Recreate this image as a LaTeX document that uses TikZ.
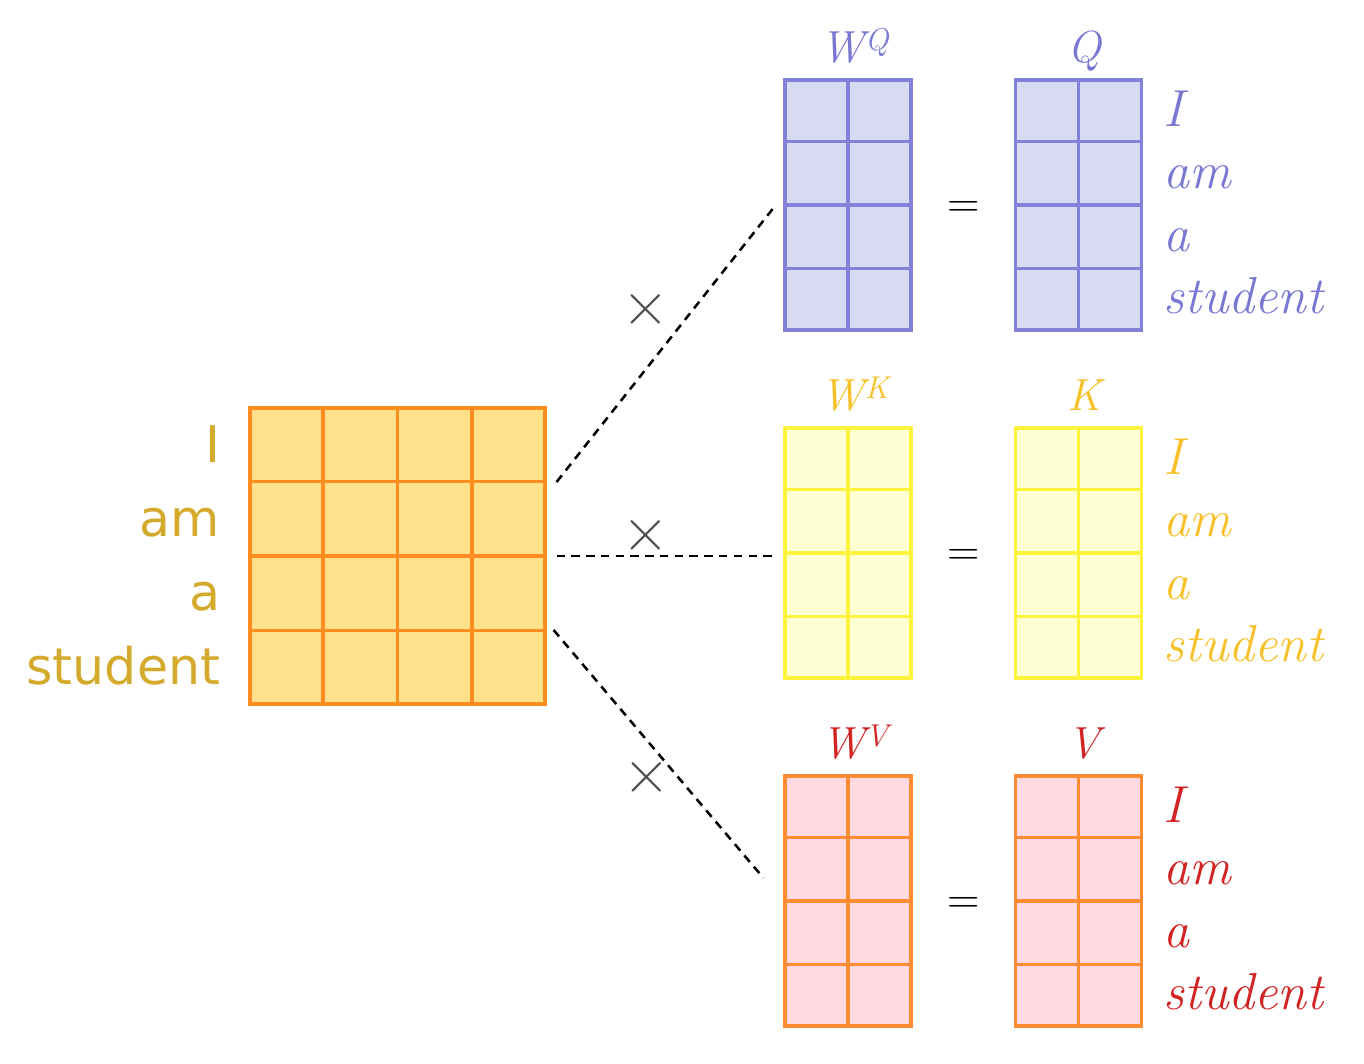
\documentclass[tikz,border=0pt]{standalone}
\usepackage{fontspec}
\newfontfamily\wordfont{DejaVu Sans}
\usetikzlibrary{positioning,calc}

\definecolor{lineq}{RGB}{130,130,218}
\definecolor{fillq}{RGB}{216,218,242}
\definecolor{textq}{RGB}{120,120,210}
\definecolor{linek}{RGB}{255,242,60}
\definecolor{fillk}{RGB}{255,255,212}
\definecolor{textk}{RGB}{248,192,40}
\definecolor{linev}{RGB}{255,140,50}
\definecolor{fillv}{RGB}{255,218,226}
\definecolor{textv}{RGB}{210,35,35}
\definecolor{linex}{RGB}{255,140,30}
\definecolor{fillx}{RGB}{255,225,140}
\definecolor{textx}{RGB}{212,170,45}

\tikzset{
  matbox/.style={draw, line width=2.2pt, inner sep=0pt},
  wbox/.style={matbox, minimum width=3.15cm, minimum height=6.25cm},
  gridline/.style={line width=2.2pt},
  dashline/.style={line width=1.8pt, dash pattern=on 6pt off 4.5pt},
  multsign/.style={text=black!70, inner sep=0pt, font=\fontsize{46}{48}\selectfont},
  eqsign/.style={inner sep=0pt, font=\fontsize{32}{36}\selectfont},
  toplabel/.style={inner sep=0pt, font=\itshape\fontsize{32}{36}\selectfont},
  rowword/.style={inner sep=0pt, anchor=base west, font=\itshape\fontsize{37}{40}\selectfont},
  inword/.style={inner sep=0pt, anchor=base east, text=textx, font=\wordfont\fontsize{36}{40}\selectfont}
}

\begin{document}
\begin{tikzpicture}[x=0.025cm, y=-0.025cm]
  \useasboundingbox (0,0) rectangle (1364,1064);

  % embedding of the sentence
  \node[matbox, draw=linex, fill=fillx, minimum width=7.375cm, minimum height=7.4cm] (X) at (397.5,556) {};
  \foreach \i in {1,2,3}{
    \draw[gridline, linex] ($(X.north west)!\i/4!(X.north east)$) -- ($(X.south west)!\i/4!(X.south east)$);
    \draw[gridline, linex] ($(X.north west)!\i/4!(X.south west)$) -- ($(X.north east)!\i/4!(X.south east)$);
  }
  \foreach \word [count=\i from 0] in {I,am,a,student}
    \node[inword] (x-\i) at ($(X.north west)+(-28,56+74*\i)$) {\word};

  % weights and products
  \foreach \r/\c/\y in {Q/q/205, K/k/553, V/v/901}{
    \node[wbox, draw=line\c, fill=fill\c] (W\r) at (848,\y) {};
    \node[wbox, draw=line\c, fill=fill\c] (\r) at (1078.5,\y) {};
    \draw[gridline, line\c] (W\r.north) -- (W\r.south);
    \draw[gridline, line\c] (\r.north) -- (\r.south);
    \foreach \i in {1,2,3}{
      \draw[gridline, line\c] ($(W\r.north west)!\i/4!(W\r.south west)$) -- ($(W\r.north east)!\i/4!(W\r.south east)$);
      \draw[gridline, line\c] ($(\r.north west)!\i/4!(\r.south west)$) -- ($(\r.north east)!\i/4!(\r.south east)$);
    }
    \node[toplabel, text=text\c, above=11pt of W\r, anchor=base, xshift=5pt] (W\r-lab) {W\textsuperscript{\r}};
    \node[toplabel, text=text\c, above=11pt of \r, anchor=base, xshift=4pt] (\r-lab) {\r};
    \node[eqsign] (eq\r) at ($(W\r.east)!0.5!(\r.west)+(0,4)$) {=};
    \foreach \word [count=\i from 0] in {I,am,a,student}
      \node[rowword, text=text\c] (\r-\i) at ($(\r.north east)+(20,48+62.5*\i)$) {\word};
  }

  % multiplications
  \coordinate (xq) at ($(X.east)+(10,-74)$);
  \coordinate (xk) at ($(X.east)+(10,0)$);
  \coordinate (xv) at ($(X.east)+(7,74)$);
  \coordinate (wq) at ($(WQ.west)+(-10,3)$);
  \coordinate (wk) at ($(WK.west)+(-10,3)$);
  \coordinate (wv) at ($(WV.west)+(-20,-23)$);
  \draw[dashline] (xq) -- (wq);
  \draw[dashline] (xk) -- (wk);
  \draw[dashline] (xv) -- (wv);
  \node[multsign] (mq) at ($(xq)!0.5!(wq)+(-19,-35)$) {×};
  \node[multsign] (mk) at ($(xk)!0.5!(wk)+(-19,-20)$) {×};
  \node[multsign] (mv) at ($(xv)!0.5!(wv)+(-12,24)$) {×};
\end{tikzpicture}
\end{document}
